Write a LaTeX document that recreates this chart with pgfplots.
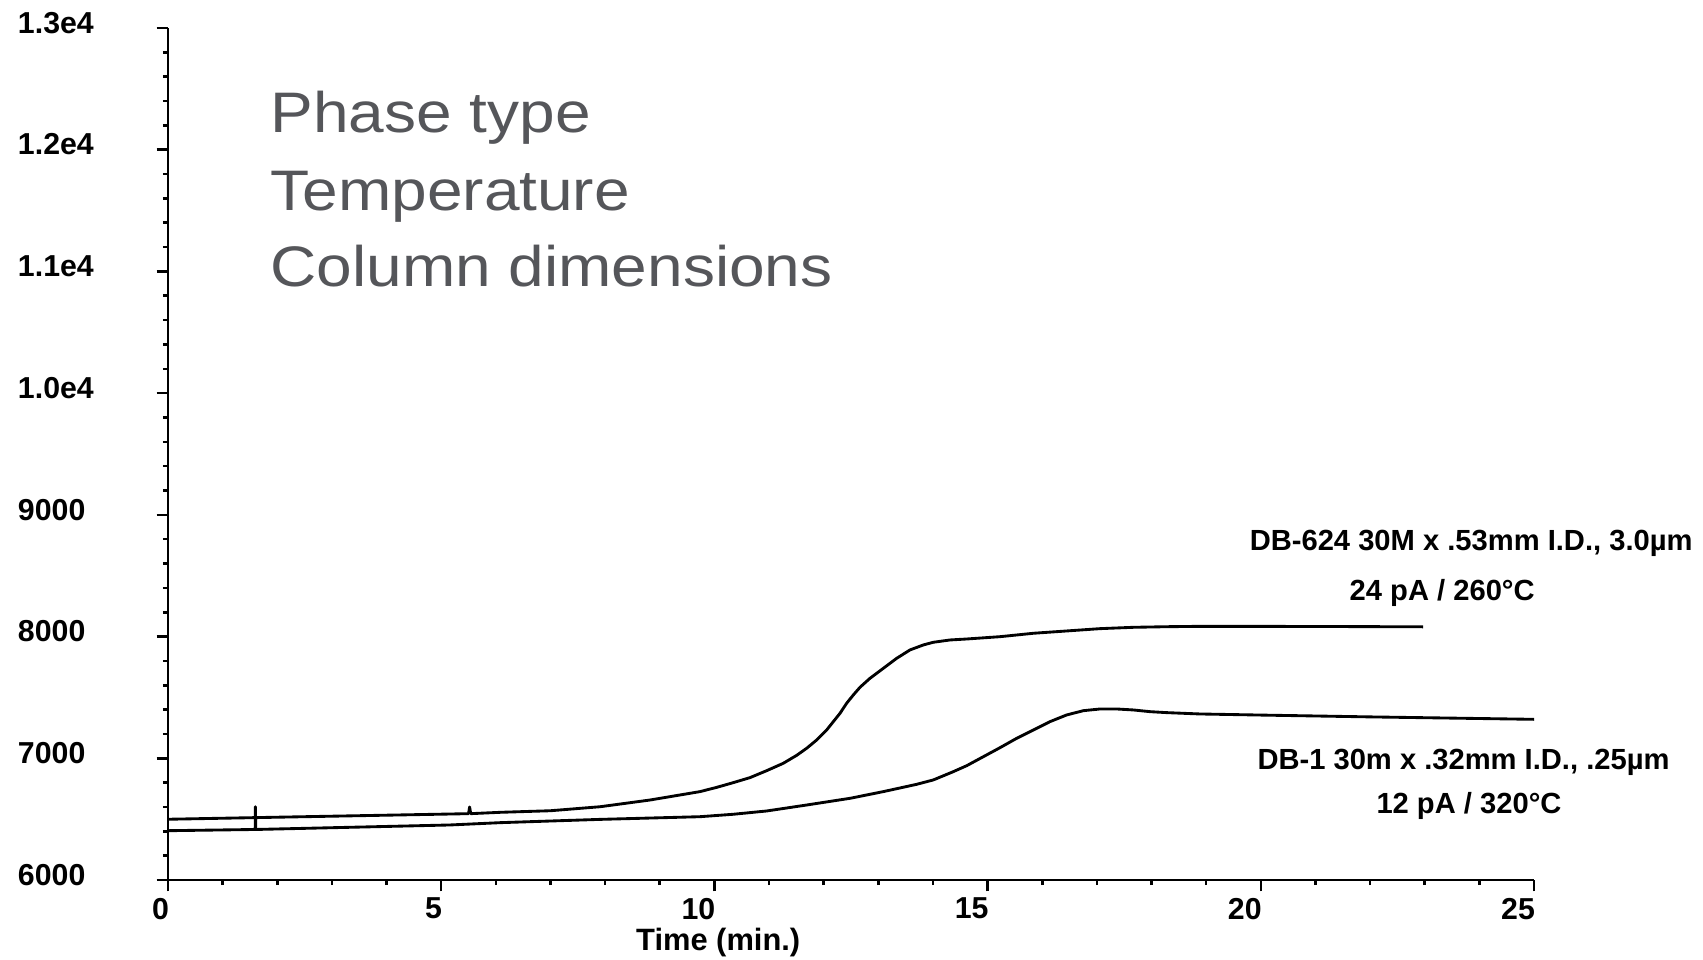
\documentclass[border=0pt]{standalone}
\usepackage{fontspec}
\setmainfont{Liberation Sans}
\newfontfamily\tickfont{Liberation Sans}
\newfontfamily\annfont{Liberation Sans}
\newfontfamily\phasefont[FakeStretch=1.12]{Liberation Sans}
\usepackage{pgfplots}
\pgfplotsset{compat=1.18}
\definecolor{PhaseGray}{HTML}{55565A}

% DB-624 30M x .53mm trace
\pgfplotstableread{
t s
0 6499
2.5 6520
5.16 6542
5.50 6545
5.52 6600
5.54 6545
6.08 6556
7.0 6569
7.91 6602
8.82 6657
9.736 6726
10.041 6761
10.346 6800
10.651 6841
10.956 6898
11.261 6959
11.505 7024
11.688 7082
11.871 7150
12.054 7232
12.176 7301
12.298 7369
12.420 7452
12.542 7520
12.664 7583
12.847 7657
13.091 7739
13.335 7821
13.579 7890
13.823 7931
14.006 7953
14.311 7972
14.617 7980
15.227 7999
15.837 8027
16.447 8046
17.057 8065
17.667 8076
18.277 8081
18.887 8084
21.0 8083
22.97 8080
}\dbsixtwofour

% DB-1 30m x .32mm trace
\pgfplotstableread{
t s
0 6405
1.595 6415
1.60 6602
1.605 6415
5.16 6452
6.08 6471
7.91 6498
9.736 6520
10.346 6540
10.956 6567
11.688 6616
12.481 6671
13.091 6726
13.701 6786
14.006 6822
14.372 6890
14.617 6939
14.922 7013
15.227 7087
15.532 7164
15.837 7232
16.142 7301
16.447 7356
16.752 7391
17.057 7405
17.362 7405
17.667 7397
17.972 7383
18.277 7375
18.887 7364
20.0 7355
22.0 7340
25.0 7320
}\dbone

\begin{document}
\begin{tikzpicture}
\begin{axis}[
    scale only axis,
    width=478.1pt, height=298.2pt,
    xmin=0, xmax=25, ymin=6000, ymax=13000,
    axis x line*=bottom, axis y line*=left,
    axis line style={black, line width=1pt, -},
    tick align=outside,
    tick style={black, line width=0.9pt},
    major tick length=4pt, minor tick length=1.8pt,
    xtick={0,5,10,15,20,25},
    xticklabels={0,5,10,15,20,25},
    minor x tick num=4,
    ytick={6000,7000,8000,9000,10000,11000,12000,13000},
    yticklabels={6000,7000,8000,9000,1.0e4,1.1e4,1.2e4,1.3e4},
    minor y tick num=4,
    xticklabel style={font=\tickfont\fontsize{10.6}{12}\selectfont\bfseries,
                      anchor=north east, inner sep=0pt, yshift=-2.1pt, xshift=0.5pt},
    yticklabel style={font=\tickfont\fontsize{10.6}{12}\selectfont\bfseries,
                      anchor=west, inner sep=0pt, xshift=-48.7pt, yshift=1.8pt},
    clip=false,
]
\addplot[black, line width=1pt, line join=round] table[x=t, y=s] {\dbsixtwofour};
\addplot[black, line width=1pt, line join=round] table[x=t, y=s] {\dbone};

\node[anchor=base, inner sep=0pt, font=\tickfont\fontsize{10.8}{12}\selectfont\bfseries]
  at (axis cs:10.07,5417) {Time (min.)};

\node[anchor=base west, inner sep=0pt, text=PhaseGray,
      font=\phasefont\fontsize{20}{24}\selectfont] at (axis cs:1.867,12140) {Phase type};
\node[anchor=base west, inner sep=0pt, text=PhaseGray,
      font=\phasefont\fontsize{20}{24}\selectfont] at (axis cs:1.867,11504) {Temperature};
\node[anchor=base west, inner sep=0pt, text=PhaseGray,
      font=\phasefont\fontsize{20}{24}\selectfont] at (axis cs:1.867,10875) {Column dimensions};

\node[anchor=base, inner sep=0pt, font=\annfont\fontsize{10.2}{12}\selectfont\bfseries]
  at (axis cs:23.85,8711) {DB-624 30M x .53mm I.D., 3.0µm};
\node[anchor=base, inner sep=0pt, font=\annfont\fontsize{10.2}{12}\selectfont\bfseries]
  at (axis cs:23.32,8300) {24 pA / 260°C};
\node[anchor=base, inner sep=0pt, font=\annfont\fontsize{10.2}{12}\selectfont\bfseries]
  at (axis cs:23.71,6904) {DB-1 30m x .32mm I.D., .25µm};
\node[anchor=base, inner sep=0pt, font=\annfont\fontsize{10.2}{12}\selectfont\bfseries]
  at (axis cs:23.81,6548) {12 pA / 320°C};
\end{axis}
\pgfresetboundingbox
\path[use as bounding box] (-58.8pt,-28pt) rectangle (537.25pt,308pt);
\end{tikzpicture}
\end{document}
